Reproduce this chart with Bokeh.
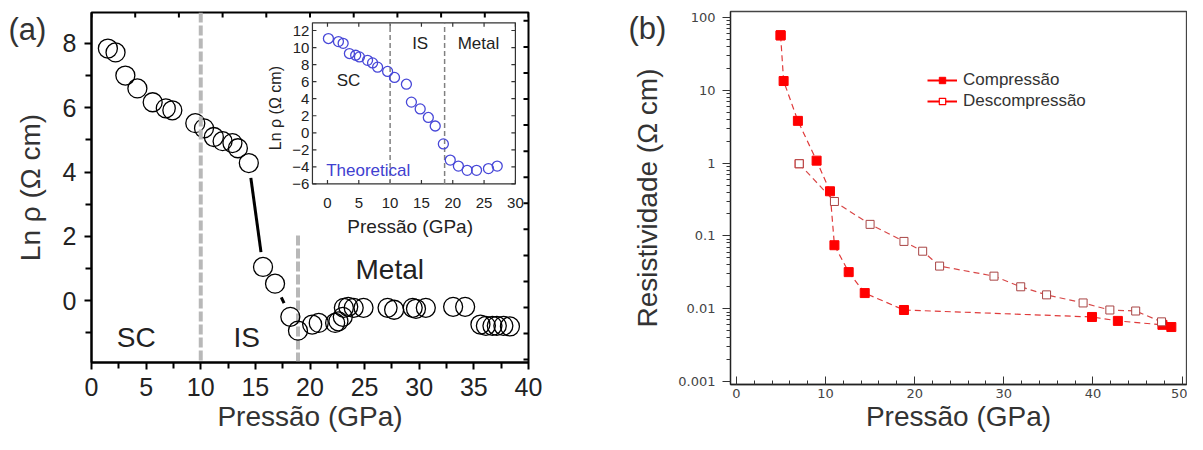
import math
import numpy as np
from bokeh.plotting import figure
from bokeh.layouts import row, column
from bokeh.models import (Range1d, FixedTicker, Span, Legend, LegendItem, CustomJSTickFormatter)
from bokeh.core.properties import value
from bokeh.embed import file_html
from bokeh.resources import INLINE

FONT = "Liberation Sans"
FONT_B = "DejaVu Sans"
MINUS = "\u2212"

# ---------------- data: panel (a), experimental ----------------
a_pressure = [1.5, 2.2, 3.1, 4.2, 5.6, 6.8, 7.4, 9.5, 10.3, 11.2, 12.0, 12.9, 13.4, 14.4,
              15.7, 16.8, 18.2, 18.9, 20.2, 20.8, 22.3, 22.6, 23.0, 23.1, 23.5, 24.0, 24.9,
              27.1, 27.7, 29.4, 29.7, 30.6, 33.1, 34.2, 35.6, 36.1, 36.7, 37.1, 37.7, 38.3]
a_ln_rho = [7.84, 7.72, 7.0, 6.6, 6.17, 5.98, 5.92, 5.52, 5.36, 5.09, 4.96, 4.9, 4.74, 4.28,
            1.05, 0.53, -0.5, -0.93, -0.74, -0.69, -0.69, -0.64, -0.5, -0.22, -0.19, -0.22, -0.22,
            -0.22, -0.28, -0.22, -0.25, -0.22, -0.19, -0.19, -0.74, -0.78, -0.78, -0.78, -0.78, -0.8]
a_links = [(13, 14), (15, 16)]          # pairs of points joined by a short black segment
a_bounds = [10.0, 18.9]                 # SC | IS | Metal boundaries
a_xticks = [0, 5, 10, 15, 20, 25, 30, 35, 40]
a_yticks = [0, 2, 4, 6, 8]
a_regions = ["SC", "IS", "Metal"]

# ---------------- data: panel (a) inset, theoretical ----------------
in_pressure = [0.15, 1.75, 2.5, 3.5, 4.5, 5.1, 6.4, 7.2, 8.0, 9.6, 10.7, 12.6, 13.4, 14.8,
               16.1, 17.2, 18.5, 19.6, 20.9, 22.3, 23.8, 25.7, 27.1]
in_ln_rho = [11.06, 10.7, 10.5, 9.3, 9.1, 8.9, 8.5, 8.2, 7.7, 7.2, 6.5, 5.7, 3.6, 2.8,
             1.8, 0.8, -1.3, -3.2, -3.9, -4.4, -4.4, -4.2, -3.9]
in_bounds = [10.0, 18.7]
in_xticks = [0, 5, 10, 15, 20, 25, 30]
in_yticks = [-6, -4, -2, 0, 2, 4, 6, 8, 10, 12]

# ---------------- data: panel (b) ----------------
comp_p = [4.96, 5.3, 6.9, 9.0, 10.5, 11.0, 12.6, 14.4, 18.8, 39.9, 42.8, 47.8, 48.8]
comp_r = [56.8, 13.4, 3.8, 1.08, 0.41, 0.0745, 0.0318, 0.0164, 0.0096, 0.0077, 0.0068, 0.0060, 0.0056]
decomp_p = [7.05, 11.0, 15.0, 18.8, 20.9, 22.8, 28.9, 31.9, 34.8, 38.9, 41.9, 44.8, 47.7]
decomp_r = [0.98, 0.297, 0.144, 0.084, 0.0616, 0.0385, 0.028, 0.020, 0.0155, 0.012, 0.0096, 0.0093, 0.0066]
b_xticks = [0, 10, 20, 30, 40, 50]
b_yticks = [0.001, 0.01, 0.1, 1, 10, 100]

H = 434


def panel_tag(p, text, dx):
    """Panel letter drawn as the figure title (second line), left of the frame, no border space."""
    t = p.title
    t.text = "\n" + text
    t.align = "left"
    t.offset = dx
    t.standoff = -72
    t.vertical_align = "top"
    t.text_font = FONT
    t.text_font_size = "31px"
    t.text_font_style = "normal"
    t.text_color = "#333"


# =============================== panel (a) ===============================
AX0, AX1 = 0, 40
AY0, AY1 = -1.92, 8.96
A_FW, A_FH = 437, 351
pa = figure(width=568, height=H, x_range=Range1d(AX0, AX1), y_range=Range1d(AY0, AY1),
            output_backend="svg", toolbar_location=None,
            min_border_left=91, min_border_right=40, min_border_top=12, min_border_bottom=71)
pa.grid.visible = False
pa.outline_line_color = "black"
pa.outline_line_width = 2
pa.border_fill_color = "white"

for ax, ticks, minors, lab in [(pa.xaxis[0], a_xticks, [t + 2.5 for t in a_xticks[:-1]], "Pressão (GPa)"),
                               (pa.yaxis[0], a_yticks, [-1, 1, 3, 5, 7], "Ln ρ (Ω cm)")]:
    ax.ticker = FixedTicker(ticks=ticks, minor_ticks=minors)
    ax.axis_line_width = 2
    ax.major_tick_line_width = 2
    ax.minor_tick_line_width = 2
    ax.major_tick_in = 0
    ax.major_tick_out = 7
    ax.minor_tick_in = 0
    ax.minor_tick_out = 6
    ax.major_label_text_font = FONT
    ax.major_label_text_font_size = "25px"
    ax.major_label_text_color = "#222"
    ax.axis_label = lab
    ax.axis_label_text_font = FONT
    ax.axis_label_text_font_size = "28px"
    ax.axis_label_text_font_style = "normal"
    ax.axis_label_text_color = "#333"
pa.xaxis[0].major_label_standoff = 8
pa.xaxis[0].axis_label_standoff = 2
pa.yaxis[0].major_label_standoff = 8
pa.yaxis[0].axis_label_standoff = 14

PXX = A_FW / (AX1 - AX0)
PXY = A_FH / (AY1 - AY0)

# inward ticks on the top and right edges of the frame
top_ticks = list(np.arange(0, 41, 4))
right_ticks = list(np.arange(-1.83, 9.0, 0.81))
pa.segment(x0=top_ticks, x1=top_ticks, y0=[AY1] * len(top_ticks),
           y1=[AY1 - 5 / PXY] * len(top_ticks), line_color="black", line_width=2)
pa.segment(x0=[AX1] * len(right_ticks), x1=[AX1 - 5 / PXX] * len(right_ticks),
           y0=right_ticks, y1=right_ticks, line_color="black", line_width=2)

# region boundaries
pa.add_layout(Span(location=a_bounds[0], dimension="height", line_color="#b8b8b8",
                   line_width=4, line_dash="10 3"))
pa.segment(x0=[a_bounds[1]], x1=[a_bounds[1]], y0=[AY0], y1=[2.05],
           line_color="#b8b8b8", line_width=4, line_dash="10 3")

# black connectors (trimmed to circle edges, in pixel space)
sx0, sy0, sx1, sy1 = [], [], [], []
for i, j in a_links:
    dxp = (a_pressure[j] - a_pressure[i]) * PXX
    dyp = (a_ln_rho[j] - a_ln_rho[i]) * PXY
    d = math.hypot(dxp, dyp)
    f0, f1 = 15 / d, 1 - 15 / d
    sx0.append(a_pressure[i] + f0 * (a_pressure[j] - a_pressure[i]))
    sy0.append(a_ln_rho[i] + f0 * (a_ln_rho[j] - a_ln_rho[i]))
    sx1.append(a_pressure[i] + f1 * (a_pressure[j] - a_pressure[i]))
    sy1.append(a_ln_rho[i] + f1 * (a_ln_rho[j] - a_ln_rho[i]))
pa.segment(x0=sx0, y0=sy0, x1=sx1, y1=sy1, line_color="black", line_width=3)

pa.scatter(a_pressure, a_ln_rho, marker="circle", size=19, fill_alpha=0,
           line_color="black", line_width=1.3)

pa.text(x=[4.1, 14.2, 27.3], y=[-1.13, -1.15, 0.96], text=a_regions,
        text_font=value(FONT), text_font_size="28px", text_color="#222",
        text_align="center", text_baseline="middle")

# ---------------- inset (own ranges) ----------------
# inset x 0..30 -> main x 21.6..38.8 ; inset y -6..12 -> main y 3.63..8.40
ix_a, ix_b, mx_a, mx_b = 0, 30, 21.6, 38.8
iy_a, iy_b, my_a, my_b = -6, 12, 3.63, 8.40
kx = (mx_b - mx_a) / (ix_b - ix_a)
ky = (my_b - my_a) / (iy_b - iy_a)
pa.extra_x_ranges = {"ix": Range1d(ix_a + (AX0 - mx_a) / kx, ix_a + (AX1 - mx_a) / kx)}
pa.extra_y_ranges = {"iy": Range1d(iy_a + (AY0 - my_a) / ky, iy_a + (AY1 - my_a) / ky)}
IR = dict(x_range_name="ix", y_range_name="iy")
pxu = PXX * kx   # px per inset-x unit
pyu = PXY * ky   # px per inset-y unit

BL, BR, BB, BT = -2.4, 30.0, -6.0, 12.9
pa.quad(left=[BL], right=[BR], bottom=[BB], top=[BT], fill_color=None,
        line_color="#333", line_width=1.2, **IR)
tl_x, tl_y = 4 / pxu, 4 / pyu
pa.segment(x0=[BL] * len(in_yticks), x1=[BL + tl_x] * len(in_yticks), y0=in_yticks, y1=in_yticks,
           line_color="#333", line_width=1.2, **IR)
pa.segment(x0=[BR] * len(in_yticks), x1=[BR - tl_x] * len(in_yticks), y0=in_yticks, y1=in_yticks,
           line_color="#333", line_width=1.2, **IR)
pa.segment(x0=in_xticks, x1=in_xticks, y0=[BB] * len(in_xticks), y1=[BB + tl_y] * len(in_xticks),
           line_color="#333", line_width=1.2, **IR)
pa.segment(x0=in_xticks, x1=in_xticks, y0=[BT] * len(in_xticks), y1=[BT - tl_y] * len(in_xticks),
           line_color="#333", line_width=1.2, **IR)
pa.text(x=[BL - 3 / pxu] * len(in_yticks), y=in_yticks,
        text=[str(t).replace("-", MINUS) for t in in_yticks],
        text_font=value(FONT), text_font_size="15px", text_color="#222",
        text_align="right", text_baseline="middle", **IR)
pa.text(x=in_xticks, y=[BB - 19 / pyu] * len(in_xticks), text=[str(t) for t in in_xticks],
        text_font=value(FONT), text_font_size="15px", text_color="#222",
        text_align="center", text_baseline="middle", **IR)
pa.text(x=[13.2], y=[-11.0], text=["Pressão (GPa)"], text_font=value(FONT),
        text_font_size="19px", text_color="#222", text_align="center", text_baseline="middle", **IR)
pa.text(x=[-8.3], y=[2.9], text=["Ln ρ (Ω cm)"], angle=math.pi / 2, text_font=value(FONT),
        text_font_size="16px", text_color="#222", text_align="center", text_baseline="middle", **IR)
pa.segment(x0=in_bounds, x1=in_bounds, y0=[BB] * 2, y1=[BT] * 2, line_color="#808080",
           line_width=1.5, line_dash="5 3", **IR)
pa.text(x=[3.35, 14.8, 24.1], y=[6.15, 10.5, 10.5], text=a_regions, text_font=value(FONT),
        text_font_size="17px", text_color="#222", text_align="center", text_baseline="middle", **IR)
pa.text(x=[6.5], y=[-4.4], text=["Theoretical"], text_font=value(FONT), text_font_size="17px",
        text_color="#4040d0", text_align="center", text_baseline="middle", **IR)
pa.scatter(in_pressure, in_ln_rho, marker="circle", size=10, fill_alpha=0,
           line_color="#4848d8", line_width=1.3, **IR)

panel_tag(pa, "(a)", -83)

# =============================== panel (b) ===============================
BX0, BX1 = -0.66, 50.5
BY0, BY1 = 10 ** -3.041, 10 ** 2.082
pb = figure(width=619, height=H, x_range=Range1d(BX0, BX1), y_range=Range1d(BY0, BY1),
            y_axis_type="log", output_backend="svg", toolbar_location=None,
            min_border_left=162, min_border_right=1, min_border_top=11, min_border_bottom=48)
pb.grid.visible = False
pb.outline_line_color = "#444"
pb.outline_line_width = 1.3
pb.border_fill_color = "white"

xb = pb.xaxis[0]
xb.ticker = FixedTicker(ticks=b_xticks, minor_ticks=list(range(0, 51, 2)))
xb.major_tick_in, xb.major_tick_out = 8, 0
xb.minor_tick_in, xb.minor_tick_out = 4, 0
xb.major_label_standoff = 4
xb.axis_label = "Pressão (GPa)"
xb.axis_label_standoff = 0

yb = pb.yaxis[0]
yb.ticker = FixedTicker(ticks=b_yticks,
                        minor_ticks=[k * 10.0 ** e for e in range(-3, 2) for k in range(2, 10)])
yb.formatter = CustomJSTickFormatter(code="return String(tick);")
yb.major_tick_in, yb.major_tick_out = 0, 8
yb.minor_tick_in, yb.minor_tick_out = 0, 4
yb.major_label_standoff = 7
yb.axis_label = "Resistividade (Ω cm)"
yb.axis_label_standoff = 12

for ax in (xb, yb):
    ax.axis_line_color = "#222"
    ax.axis_line_width = 1.3
    ax.major_tick_line_color = "#333"
    ax.minor_tick_line_color = "#333"
    ax.major_label_text_font = FONT_B
    ax.major_label_text_font_size = "13px"
    ax.major_label_text_color = "#444"
    ax.axis_label_text_font = FONT
    ax.axis_label_text_font_size = "28px"
    ax.axis_label_text_font_style = "normal"
    ax.axis_label_text_color = "#333"

# legend-only glyphs (single point hidden under the first data marker, no line drawn)
lc = pb.line(comp_p[:1], comp_r[:1], line_color="#ff0000", line_width=2)
mc = pb.scatter(comp_p[:1], comp_r[:1], marker="square", size=9, fill_color="#ff0000",
                line_color="#ff0000")
ld = pb.line(decomp_p[:1], decomp_r[:1], line_color="#ff0000", line_width=2)
md = pb.scatter(decomp_p[:1], decomp_r[:1], marker="square", size=8, fill_color="white",
                line_color="#ff0000", line_width=1.2)

pb.line(comp_p, comp_r, line_color="#e03a3a", line_width=1.2, line_dash="6 4")
pb.line(decomp_p, decomp_r, line_color="#d84848", line_width=1.2, line_dash="6 4")
pb.scatter(comp_p, comp_r, marker="square", size=9, fill_color="#ff0000", line_color="#ff0000")
pb.scatter(decomp_p, decomp_r, marker="square", size=8, fill_color="white",
           line_color="#a84444", line_width=1)

legend = Legend(items=[LegendItem(label="Compressão", renderers=[lc, mc]),
                       LegendItem(label="Descompressão", renderers=[ld, md])],
                location=(197, 273), glyph_width=30, glyph_height=16, label_height=16,
                spacing=1, padding=0, margin=0, border_line_color=None,
                background_fill_alpha=0, label_text_font=FONT, label_text_font_size="17px",
                label_text_color="#333", label_standoff=6)
pb.add_layout(legend)

panel_tag(pb, "(b)", -102)

layout = row(column(pa), column(pb))
open("out.html", "w").write(file_html(layout, INLINE))
